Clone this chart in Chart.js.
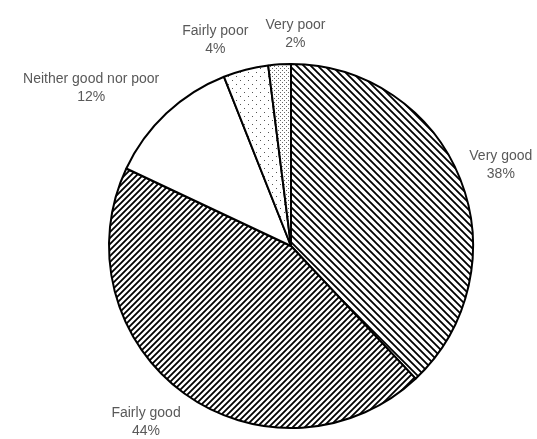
<!DOCTYPE html>
<html>
<head>
<meta charset="utf-8">
<script src="https://cdn.jsdelivr.net/npm/chart.js@4.4.1/dist/chart.umd.min.js"></script>
<style>
    html, body { margin: 0; padding: 0; background: #fff; }
    #wrap { width: 537px; height: 439px; }
</style>
</head>
<body>
<div id="wrap"><canvas id="pieChart"></canvas></div>
<script>
const categories = ['Very good', 'Fairly good', 'Neither good nor poor', 'Fairly poor', 'Very poor'];
const shares = [38, 44, 12, 4, 2];

// label nudges, Excel "best fit" pushes the boxes around a bit
const labelNudgeX = [9, -18, -52, -22, 18];
const labelNudgeY = [-1, 1, 0, 3, 4];

function stripePattern(back, s) {
    const c = document.createElement('canvas');
    c.width = s; c.height = s;
    const g = c.getContext('2d');
    g.fillStyle = '#fff';
    g.fillRect(0, 0, s, s);
    g.strokeStyle = '#000';
    g.lineWidth = 1.8;
    g.beginPath();
    if (back) {
        g.moveTo(-1, -1); g.lineTo(s + 1, s + 1);
        g.moveTo(-1, s - 1); g.lineTo(1, s + 1);
        g.moveTo(s - 1, -1); g.lineTo(s + 1, 1);
    } else {
        g.moveTo(-1, s + 1); g.lineTo(s + 1, -1);
        g.moveTo(-1, 1); g.lineTo(1, -1);
        g.moveTo(s - 1, s + 1); g.lineTo(s + 1, s - 1);
    }
    g.stroke();
    return g.createPattern(c, 'repeat');
}

function dotPattern(step, color) {
    const c = document.createElement('canvas');
    c.width = step * 2; c.height = step * 2;
    const g = c.getContext('2d');
    g.fillStyle = '#fff';
    g.fillRect(0, 0, c.width, c.height);
    g.fillStyle = color;
    g.fillRect(0, 0, 1, 1);
    g.fillRect(step, step, 1, 1);
    return g.createPattern(c, 'repeat');
}

const fills = [
    stripePattern(true, 7),
    stripePattern(false, 6),
    '#ffffff',
    dotPattern(4, '#555'),
    dotPattern(2, '#666')
];

const outsideLabels = {
    id: 'outsideLabels',
    afterDatasetsDraw(chart) {
        const ctx = chart.ctx;
        const arcs = chart.getDatasetMeta(0).data;
        ctx.save();
        ctx.font = '14px "Liberation Sans", Arial, sans-serif';
        ctx.fillStyle = '#595959';
        ctx.textAlign = 'center';
        ctx.textBaseline = 'middle';
        arcs.forEach((arc, i) => {
            const p = arc.getProps(['x', 'y', 'startAngle', 'endAngle', 'outerRadius'], true);
            const mid = (p.startAngle + p.endAngle) / 2;
            const r = p.outerRadius + 34;
            const x = p.x + Math.cos(mid) * r + labelNudgeX[i];
            const y = p.y + Math.sin(mid) * r + labelNudgeY[i];
            ctx.fillText(categories[i], x, y - 9);
            ctx.fillText(shares[i] + '%', x, y + 9);
        });
        ctx.restore();
    }
};

new Chart(document.getElementById('pieChart'), {
    type: 'pie',
    data: {
        labels: categories,
        datasets: [{
            data: shares,
            backgroundColor: fills,
            borderColor: '#000',
            borderWidth: 2
        }]
    },
    options: {
        responsive: true,
        maintainAspectRatio: false,
        animation: false,
        layout: { padding: { top: 63, bottom: 10, left: 108, right: 63 } },
        plugins: {
            legend: { display: false },
            tooltip: { enabled: false }
        }
    },
    plugins: [outsideLabels]
});
</script>
</body>
</html>
